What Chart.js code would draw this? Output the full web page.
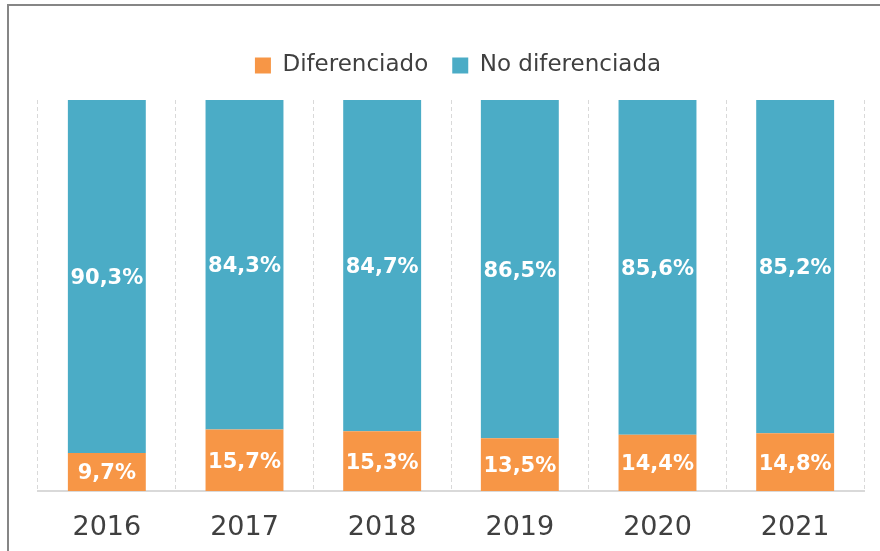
<!DOCTYPE html>
<html>
<head>
<meta charset="utf-8">
<script src="https://cdn.jsdelivr.net/npm/chart.js@4.4.0/dist/chart.umd.min.js"></script>
<style>
  html, body { margin: 0; padding: 0; background: #ffffff; overflow: hidden; }
  canvas { display: block; }
</style>
</head>
<body>
<canvas id="c" width="880" height="551"></canvas>
<script>
const years = ['2016', '2017', '2018', '2019', '2020', '2021'];
const diferenciado = [9.7, 15.7, 15.3, 13.5, 14.4, 14.8];
const noDiferenciada = [90.3, 84.3, 84.7, 86.5, 85.6, 85.2];

const FONT = "'DejaVu Sans', Verdana, sans-serif";

const legendTweaks = {
  id: 'legendTweaks',
  beforeInit(chart) {
    const lg = chart.legend;
    const origFit = lg.fit;
    lg.fit = function () {
      origFit.bind(lg)();
      this.height += 20;
    };
    const origDraw = lg.draw;
    lg.draw = function () {
      const ctx = chart.ctx;
      ctx.save();
      ctx.translate(7, 7);
      origDraw.apply(lg, arguments);
      ctx.restore();
    };
  }
};

const frame = {
  id: 'frame',
  beforeDraw(chart) {
    const ctx = chart.ctx;
    ctx.save();
    ctx.fillStyle = '#ffffff';
    ctx.fillRect(0, 0, chart.width, chart.height);
    ctx.strokeStyle = '#868686';
    ctx.lineWidth = 2;
    ctx.beginPath();
    ctx.moveTo(8, chart.height + 2);
    ctx.lineTo(8, 5);
    ctx.lineTo(chart.width + 2, 5);
    ctx.stroke();
    ctx.restore();
  }
};

const valueLabels = {
  id: 'valueLabels',
  afterDatasetsDraw(chart) {
    const ctx = chart.ctx;
    ctx.save();
    ctx.font = "bold 21px " + FONT;
    ctx.fillStyle = '#ffffff';
    ctx.textAlign = 'center';
    ctx.textBaseline = 'middle';
    chart.data.datasets.forEach((ds, i) => {
      const meta = chart.getDatasetMeta(i);
      meta.data.forEach((bar, j) => {
        const p = bar.getCenterPoint();
        const txt = ds.data[j].toFixed(1).replace('.', ',') + '%';
        ctx.fillText(txt, p.x, p.y + 2);
      });
    });
    ctx.restore();
  }
};

new Chart(document.getElementById('c'), {
  type: 'bar',
  data: {
    labels: years,
    datasets: [
      { label: 'Diferenciado', data: diferenciado, backgroundColor: '#F79646',
        categoryPercentage: 1, barPercentage: 0.566 },
      { label: 'No diferenciada', data: noDiferenciada, backgroundColor: '#4BACC6',
        categoryPercentage: 1, barPercentage: 0.566 }
    ]
  },
  options: {
    responsive: false,
    animation: false,
    layout: { padding: { left: 38, right: 16, top: 23, bottom: 8 } },
    plugins: {
      legend: {
        position: 'top',
        labels: {
          font: { family: FONT, size: 23 },
          color: '#404040',
          boxWidth: 16,
          boxHeight: 16,
          padding: 24
        }
      },
      tooltip: { enabled: false }
    },
    scales: {
      x: {
        stacked: true,
        afterFit(scale) { scale.height = 52; },
        grid: {
          display: true,
          offset: true,
          drawTicks: false,
          color: '#d9d9d9',
          lineWidth: 1
        },
        border: { display: true, color: '#d9d9d9', width: 2, dash: [4, 3] },
        ticks: {
          font: { family: FONT, size: 27 },
          color: '#404040',
          padding: 21
        }
      },
      y: {
        stacked: true,
        display: false,
        min: 0,
        max: 100
      }
    }
  },
  plugins: [frame, legendTweaks, valueLabels]
});
</script>
</body>
</html>
